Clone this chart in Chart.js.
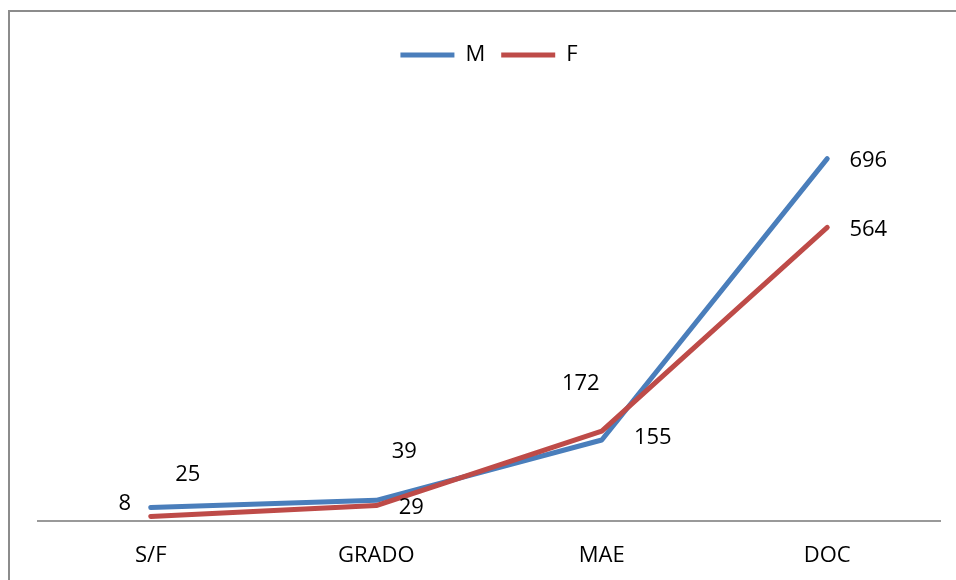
<!DOCTYPE html>
<html>
<head>
<meta charset="utf-8">
<script src="https://cdn.jsdelivr.net/npm/chart.js@4/dist/chart.umd.min.js"></script>
<style>
    html, body { margin: 0; padding: 0; background: #fff; overflow: hidden; }
    #wrap { position: relative; width: 956px; height: 580px; overflow: hidden; }
    #frame { position: absolute; left: 8px; top: 10px; width: 1000px; height: 700px; border: 2px solid #8c8c8c; box-sizing: border-box; pointer-events: none; }
    canvas { position: absolute; left: 0; top: 0; }
</style>
</head>
<body>
<div id="wrap">
    <canvas id="chart" width="956" height="591"></canvas>
    <div id="frame"></div>
</div>
<script>
const categories = ['S/F', 'GRADO', 'MAE', 'DOC'];
const seriesNames = ['M', 'F'];
const valuesM = [25, 39, 155, 696];
const valuesF = [8, 29, 172, 564];

// where each value label sits relative to its point (moved by hand in the original)
const labelOffsetsM = [[37, -33], [28, -49], [51, -2], [41, 2]];
const labelOffsetsF = [[-26, -13], [35, 2], [-21, -47], [41, 2]];

const fontFamily = '"Open Sans", "Liberation Sans", sans-serif';

const valueLabels = {
    id: 'valueLabels',
    afterDatasetsDraw(chart) {
        const ctx = chart.ctx;
        ctx.save();
        ctx.font = '22px ' + fontFamily;
        ctx.fillStyle = '#000';
        ctx.textAlign = 'center';
        ctx.textBaseline = 'middle';
        chart.data.datasets.forEach((ds, i) => {
            const meta = chart.getDatasetMeta(i);
            meta.data.forEach((pt, j) => {
                const off = ds.labelOffsets[j];
                ctx.fillText(String(ds.data[j]), pt.x + off[0], pt.y + off[1]);
            });
        });
        ctx.restore();
    }
};

new Chart(document.getElementById('chart'), {
    type: 'line',
    data: {
        labels: categories,
        datasets: [
            {
                label: seriesNames[0],
                data: valuesM,
                borderColor: '#4a7ebb',
                backgroundColor: '#4a7ebb',
                borderWidth: 5,
                borderCapStyle: 'round',
                borderJoinStyle: 'round',
                pointRadius: 0,
                tension: 0,
                order: 1,
                labelOffsets: labelOffsetsM
            },
            {
                label: seriesNames[1],
                data: valuesF,
                borderColor: '#be4b48',
                backgroundColor: '#be4b48',
                borderWidth: 5,
                borderCapStyle: 'round',
                borderJoinStyle: 'round',
                pointRadius: 0,
                tension: 0,
                order: 0,
                labelOffsets: labelOffsetsF
            }
        ]
    },
    options: {
        responsive: false,
        animation: false,
        layout: { padding: { top: 28, left: 38, right: 16, bottom: 0 } },
        plugins: {
            tooltip: { enabled: false },
            legend: {
                position: 'top',
                labels: {
                    usePointStyle: true,
                    pointStyle: 'line',
                    pointStyleWidth: 54,
                    color: '#000',
                    font: { size: 22, family: fontFamily },
                    padding: 16,
                    sort: (a, b) => a.datasetIndex - b.datasetIndex
                }
            }
        },
        scales: {
            x: {
                offset: true,
                grid: { display: false, drawTicks: false },
                border: { display: true, color: '#999', width: 2 },
                ticks: { color: '#000', font: { size: 22, family: fontFamily }, padding: 22 }
            },
            y: {
                display: false,
                min: 0,
                max: 855
            }
        }
    },
    plugins: [valueLabels]
});
</script>
</body>
</html>
